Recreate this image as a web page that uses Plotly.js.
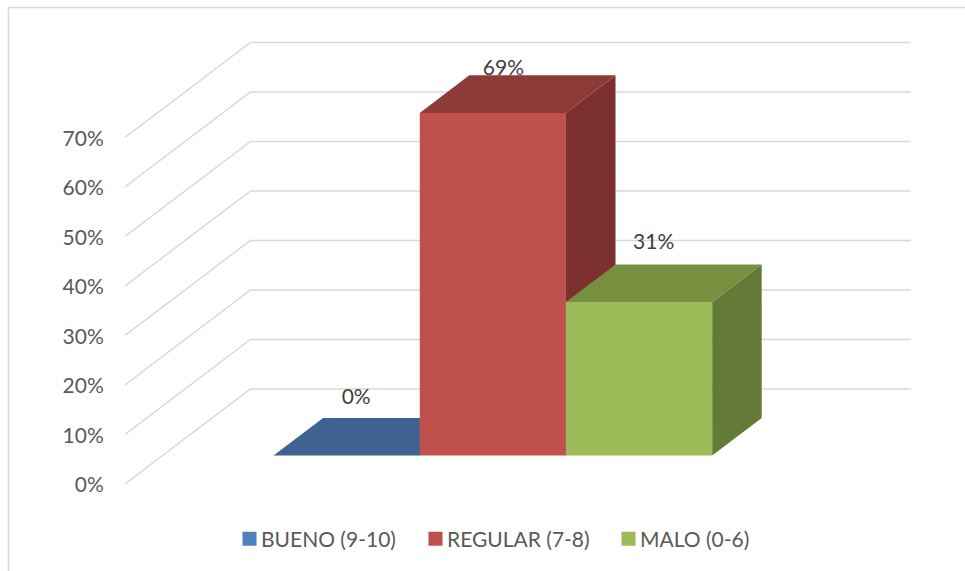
<!DOCTYPE html>
<html>
<head>
<meta charset="utf-8">
<script src="https://cdn.plot.ly/plotly-3.0.1.min.js"></script>
<style>html,body{margin:0;padding:0;background:#fff}#chart{width:965px;height:571px}</style>
</head>
<body>
<div id="chart"></div>
<script>
// Data
const seriesNames = ['BUENO (9-10)', 'REGULAR (7-8)', 'MALO (0-6)'];
const seriesValues = [0, 69.2, 31];
const labelTexts = ['0%', '69%', '31%'];
const axisTicks = [0, 10, 20, 30, 40, 50, 60, 70];

// Styles
const frontColors = ['#4F81BD', '#C0504D', '#9BBB59'];
const topColors = ['#3E6390', '#8E3A38', '#779040'];
const sideColors = ['#34537A', '#7B2F2E', '#647A37'];
const textColor = '#595959';
const labelColor = '#404040';
const gridColor = '#D9D9D9';
const FONT = 'Lato, Carlito, sans-serif';

// Oblique projection of the chart's depth into the 2D axes
const depthX = 0.858, depthY = 19.2;   // axis units per full depth
const nearD = 0.30, farD = 0.695;      // bar depth span
const xMin = -1.516, xMax = 3.86;      // x range in bar widths
const yMin = -5.45, yMax = 91.7;
const proj = (x, v, d) => [x + d * depthX, v + d * depthY];
// Bars are placed by their front face, so their depth counts from nearD in x
const barProj = (x, v, d) => [x + (d - nearD) * depthX, v + d * depthY];
const poly = pts => 'M' + pts.map(p => p[0].toFixed(4) + ',' + p[1].toFixed(3)).join('L') + 'Z';
const lineP = pts => 'M' + pts.map(p => p[0].toFixed(4) + ',' + p[1].toFixed(3)).join('L');

// Label offsets from the bar's top back edge
const labelDx = [0.065, 0.072, 0.10];
const labelDy = [3.8, 1.2, 4.1];
// Fine placement of the legend entries, in pixels
const legendNudge = [0, -3, 1];

// Margins and paper helpers
const m = {l: 125, r: 54, t: 30, b: 60};
const W = 965, H = 571, pw = W - m.l - m.r, ph = H - m.t - m.b;
const px = x => (x - m.l) / pw;
const py = y => (H - m.b - y) / ph;

const shapes = [];
// Chart frame
shapes.push({type: 'line', xref: 'paper', yref: 'paper', x0: px(8.5), x1: px(965), y0: py(7.5), y1: py(7.5), line: {color: gridColor, width: 1.5}});
shapes.push({type: 'line', xref: 'paper', yref: 'paper', x0: px(8.5), x1: px(8.5), y0: py(7.5), y1: py(571), line: {color: gridColor, width: 1.5}});
// Wall gridlines
axisTicks.forEach(v => {
  shapes.push({type: 'path', xref: 'x', yref: 'y', layer: 'below',
    path: lineP([proj(xMin, v, 0), proj(xMin, v, 1), proj(xMax, v, 1)]),
    line: {color: gridColor, width: 1.5}});
});
// Top and side faces, back to front
seriesValues.forEach((v, i) => {
  const x0 = i - 0.5, x1 = i + 0.5;
  shapes.push({type: 'path', xref: 'x', yref: 'y', layer: 'below',
    path: poly([barProj(x1, 0, nearD), barProj(x1, 0, farD), barProj(x1, v, farD), barProj(x1, v, nearD)]),
    fillcolor: sideColors[i], line: {width: 0}});
  shapes.push({type: 'path', xref: 'x', yref: 'y', layer: 'below',
    path: poly([barProj(x0, v, nearD), barProj(x0, v, farD), barProj(x1, v, farD), barProj(x1, v, nearD)]),
    fillcolor: topColors[i], line: {width: 0}});
});

// Front faces are real bars and carry the legend
const traces = seriesValues.map((v, i) => ({
  type: 'bar', x: [i], y: [v], base: [barProj(0, 0, nearD)[1]], width: [1], name: seriesNames[i],
  marker: {color: frontColors[i], line: {width: 0}},
  hoverinfo: 'skip', cliponaxis: false
}));
// Data labels
traces.push({
  type: 'scatter', mode: 'text', showlegend: false, hoverinfo: 'skip', cliponaxis: false,
  x: seriesValues.map((v, i) => i + labelDx[i]),
  y: seriesValues.map((v, i) => barProj(0, v, farD)[1] + labelDy[i]),
  text: labelTexts, textposition: 'middle center',
  textfont: {family: FONT, size: 21, color: labelColor}
});

const layout = {
  width: W, height: H, margin: m, autosize: false, barmode: 'overlay',
  paper_bgcolor: '#fff', plot_bgcolor: 'rgba(0,0,0,0)',
  font: {family: FONT, size: 21, color: textColor},
  xaxis: {range: [xMin, xMax], visible: false, fixedrange: true},
  yaxis: {range: [yMin, yMax], tickmode: 'array', tickvals: axisTicks, ticktext: axisTicks.map(t => t + '%'),
    showgrid: false, zeroline: false, showline: false, ticks: 'outside', ticklen: 16, tickcolor: 'rgba(0,0,0,0)',
    tickfont: {family: FONT, size: 21, color: textColor}, fixedrange: true, ticklabelshift: 1},
  legend: {orientation: 'h', xref: 'paper', yref: 'paper', x: px(229.5), xanchor: 'left', y: py(539), yanchor: 'middle',
    entrywidth: 144, entrywidthmode: 'pixels',
    font: {family: FONT, size: 21, color: textColor}, bgcolor: 'rgba(0,0,0,0)', traceorder: 'normal'},
  shapes: shapes,
  showlegend: true
};

Plotly.newPlot('chart', traces, layout, {displayModeBar: false, staticPlot: true}).then(gd => {
  // Match the legend's swatch size, swatch-to-text gap and entry spacing
  gd.querySelectorAll('.legendtext').forEach(t => {
    t.setAttribute('x', parseFloat(t.getAttribute('x')) - 8.5);
  });
  gd.querySelectorAll('.legend .legendpoints path').forEach(p => {
    p.setAttribute('d', 'M7,7H-7V-7H7Z');
  });
  gd.querySelectorAll('.legend .traces').forEach((g, i) => {
    const t = g.getAttribute('transform').match(/translate\(\s*([-\d.]+)[ ,]+([-\d.]+)/);
    if (t) g.setAttribute('transform', 'translate(' + (parseFloat(t[1]) + legendNudge[i]) + ',' + t[2] + ')');
  });
});
</script>
</body>
</html>
